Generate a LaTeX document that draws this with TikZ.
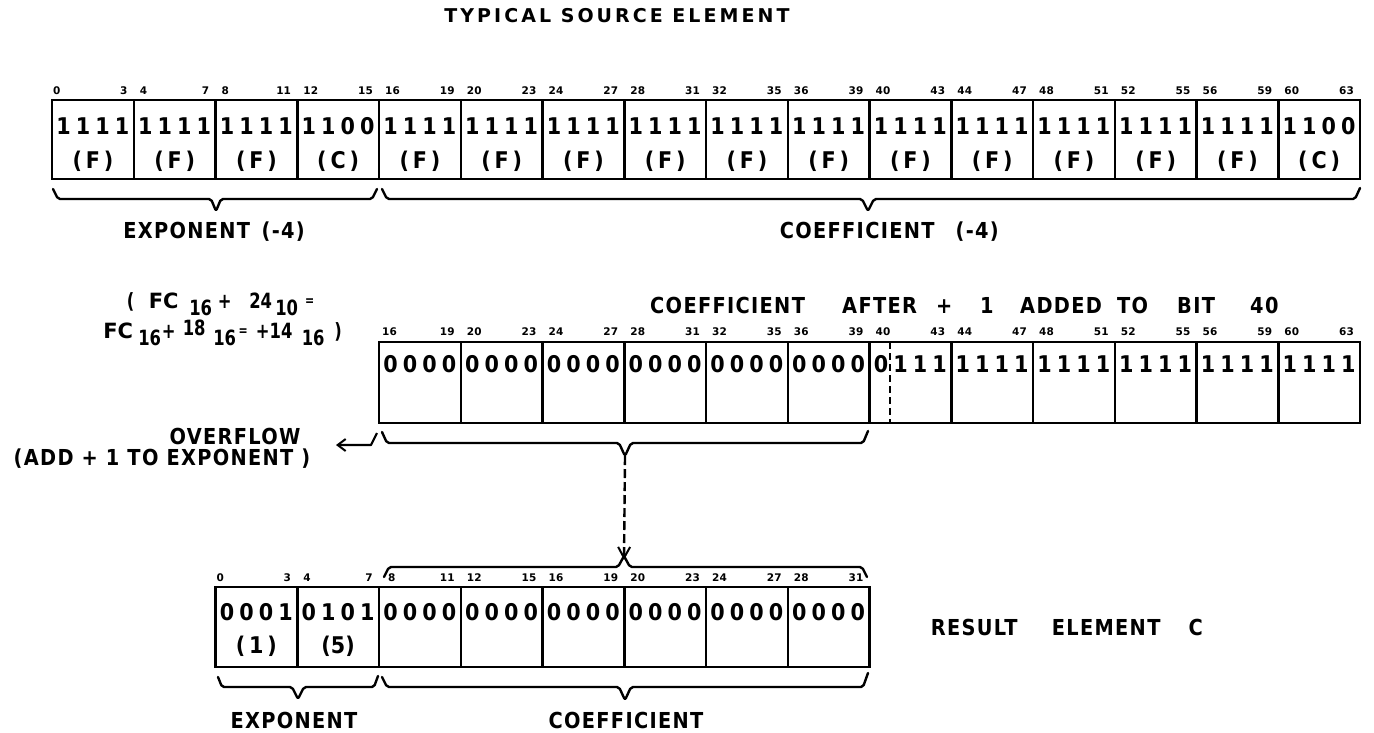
\documentclass[tikz,border=0pt]{standalone}
\usepackage{fontspec}
\setmainfont{DejaVu Sans}
\newfontfamily\fB{DejaVu Sans Bold}
\newfontfamily\fD[FakeStretch=0.9]{DejaVu Sans Bold}
\newfontfamily\fF[FakeStretch=0.78]{DejaVu Sans Bold}
\newfontfamily\fT[LetterSpace=16]{DejaVu Sans Bold}
\newfontfamily\fL[LetterSpace=6,FakeStretch=0.88]{DejaVu Sans Bold}
\usetikzlibrary{arrows.meta}
\def\cbx#1#2#3#4\relax{\makebox[19.5pt]{#1}\makebox[19.5pt]{#2}\makebox[19.5pt]{#3}\makebox[19.5pt]{#4}}
\newcommand\cb[1]{\expandafter\cbx#1\relax}
\newcommand\dn[1]{\raisebox{-7pt}{#1}}
\newcommand\upr[1]{\raisebox{3pt}{#1}}
\newcommand\pc[2]{\makebox[0pt][l]{\hspace*{#1pt}\makebox[0pt][c]{#2}}}
\tikzset{
 box/.style={line width=2.5pt},
 bitnum/.style={font=\fB\fontsize{10.5}{10.5}\selectfont, inner sep=0pt},
 bits/.style={font=\fD\fontsize{23}{23}\selectfont, inner sep=0pt, anchor=base},
 lbl/.style={font=\fL\fontsize{22}{22}\selectfont, inner sep=0pt, anchor=base},
 word/.style={font=\fL\fontsize{22}{22}\selectfont, inner sep=0pt, anchor=base west},
 frm/.style={font=\fF\fontsize{21}{21}\selectfont, inner sep=0pt, anchor=base west},
 brace/.style={line width=2.4pt, line join=round, line cap=round, rounded corners=2pt},
 darrow/.style={line width=2.4pt, dash pattern=on 9pt off 4pt, -{Straight Barb[length=11pt,width=12pt,line width=2pt]}},
 oarrow/.style={line width=2.2pt, line join=round, -{Straight Barb[length=8pt,width=12pt,line width=2pt]}},
}
\begin{document}
\begin{tikzpicture}[x=1pt,y=-1pt]
\useasboundingbox (0,0) rectangle (1374,732);
\fill[white] (0,0) rectangle (1374,732);
\def\cw{81.75}
% title
\node[lbl, font=\fT\fontsize{19}{19}\selectfont] (title) at (617,22) {TYPICAL SOURCE ELEMENT};
% ---------- top row ----------
\draw[box] (52,100) rectangle (1360,179);
\foreach \i in {1,...,15} \draw[box] ({52+\cw*\i},100) -- ({52+\cw*\i},179);
\foreach \i/\bits/\hx in {0/1111/F,1/1111/F,2/1111/F,3/1100/C,4/1111/F,5/1111/F,6/1111/F,7/1111/F,8/1111/F,9/1111/F,10/1111/F,11/1111/F,12/1111/F,13/1111/F,14/1111/F,15/1100/C}{
  \pgfmathsetmacro\xl{52+\cw*\i}
  \pgfmathsetmacro\xc{\xl+\cw/2}
  \pgfmathsetmacro\xs{\xl+(\i==0?1:6)}
  \pgfmathtruncatemacro\bs{4*\i}
  \pgfmathtruncatemacro\be{4*\i+3}
  \node[bitnum, anchor=base west] (ts\i) at (\xs,94) {\bs};
  \node[bitnum, anchor=base east] (te\i) at ({\xl+\cw-6},94) {\be};
  \node[bits] (tb\i) at (\xc,134) {\cb{\bits}};
  \node[bits] (th\i) at (\xc,168) {(\,\hx\,)};
}
\draw[brace] (53,189) -- (58,199) -- (211,199) -- (216,211) -- (221,199) -- (372,199) -- (377,189);
\draw[brace] (382,189) -- (387,199) -- (862,199) -- (868,211) -- (874,199) -- (1355,199) -- (1360,188);
\node[word] (expA) at (124,238) {\pc{62}{EXPONENT}\pc{158.5}{(-4)}};
\node[word] (coefA) at (783,238) {\pc{73.5}{COEFFICIENT}\pc{193.5}{(-4)}};
% ---------- formula ----------
\node[frm] (f1) at (127,308) {\pc{3}{(}\pc{36}{\fB FC}\pc{73}{\dn{16}}\pc{97}{+}\pc{133}{24}\pc{159}{\dn{10}}\pc{182}{\upr{\fontsize{14}{14}\selectfont=}}};
\node[frm] (f2) at (103,338) {\pc{14.5}{\fB FC}\pc{46}{\dn{16}}\pc{65}{+}\pc{90.5}{\upr{18}}\pc{121}{\dn{16}}\pc{139.5}{\upr{\fontsize{14}{14}\selectfont=}}\pc{170.5}{+14}\pc{209.5}{\dn{16}}\pc{234.5}{)}};
% ---------- middle row ----------
\node[word] (a1) at (650,313) {COEFFICIENT};
\node[word] (a2) at (842,313) {AFTER};
\node[word] (a3) at (936,313) {+};
\node[word] (a4) at (980,313) {1};
\node[word] (a5) at (1020,313) {ADDED};
\node[word] (a6) at (1117,313) {TO};
\node[word] (a7) at (1177,313) {BIT};
\node[word] (a8) at (1250,313) {40};
\draw[box] (379,342) rectangle (1360,423);
\foreach \i in {5,...,15} \draw[box] ({52+\cw*\i},342) -- ({52+\cw*\i},423);
\draw[line width=2.2pt, dash pattern=on 7pt off 4pt] (890,342) -- (890,423);
\foreach \i/\bits in {4/0000,5/0000,6/0000,7/0000,8/0000,9/0000,10/0111,11/1111,12/1111,13/1111,14/1111,15/1111}{
  \pgfmathsetmacro\xl{52+\cw*\i}
  \pgfmathsetmacro\xc{\xl+\cw/2}
  \pgfmathsetmacro\xs{\xl+(\i==4?3:6)}
  \pgfmathtruncatemacro\bs{4*\i}
  \pgfmathtruncatemacro\be{4*\i+3}
  \node[bitnum, anchor=base west] (ms\i) at (\xs,335) {\bs};
  \node[bitnum, anchor=base east] (me\i) at ({\xl+\cw-6},335) {\be};
  \node[bits] (mb\i) at (\xc,372) {\cb{\bits}};
}
\draw[brace] (382,432) -- (387,443) -- (619,443) -- (625,456) -- (631,443) -- (863,443) -- (868,431);
\coordinate (mtip) at (625,456);
\coordinate (ovf) at (336,445);
\draw[oarrow] (377,433) -- (371,445) -- (ovf);
\node[lbl] (over1) at (235,444) {OVERFLOW};
\node[lbl] (over2) at (162,465) {(ADD + 1 TO EXPONENT )};
% ---------- bottom row ----------
\draw[box] (215.5,587) rectangle (869.5,667);
\foreach \j in {1,...,7} \draw[box] ({215.5+\cw*\j},587) -- ({215.5+\cw*\j},667);
\foreach \j/\bits in {0/0001,1/0101,2/0000,3/0000,4/0000,5/0000,6/0000,7/0000}{
  \pgfmathsetmacro\xl{215.5+\cw*\j}
  \pgfmathsetmacro\xc{\xl+\cw/2}
  \pgfmathsetmacro\xs{\xl+(\j==0?1:(\j==2?9:6))}
  \pgfmathtruncatemacro\bs{4*\j}
  \pgfmathtruncatemacro\be{4*\j+3}
  \node[bitnum, anchor=base west] (bs\j) at (\xs,581) {\bs};
  \node[bitnum, anchor=base east] (be\j) at ({\xl+\cw-6},581) {\be};
  \node[bits] (bb\j) at (\xc,620) {\cb{\bits}};
}
\node[bits] (bh0) at ({215.5+\cw/2},653) {(\,1\,)};
\node[bits] (bh1) at ({215.5+\cw*1.5},653) {(5)};
\draw[brace] (384,577) -- (389,567) -- (618,567) -- (624,556) -- (630,567) -- (862,567) -- (867,577);
\coordinate (btip) at (624,560);
\draw[darrow] (mtip) -- (btip);
\draw[brace] (218,677) -- (222,687) -- (292,687) -- (298,699) -- (304,687) -- (374,687) -- (378,676);
\draw[brace] (382,677) -- (387,687) -- (619,687) -- (625,700) -- (631,687) -- (863,687) -- (868,673);
\node[lbl] (expB) at (294,728) {EXPONENT};
\node[lbl] (coefB) at (626,728) {COEFFICIENT};
\node[word] (result) at (927,635) {\pc{46.5}{RESULT}\pc{178.5}{ELEMENT}\pc{268}{C}};
\end{tikzpicture}
\end{document}
